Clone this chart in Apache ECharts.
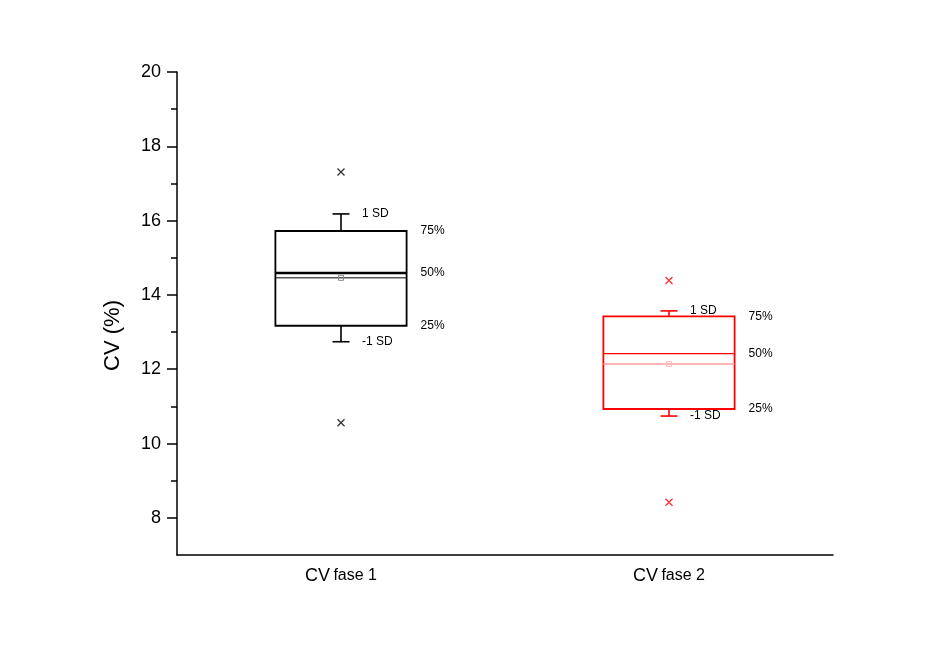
<!DOCTYPE html>
<html>
<head>
<meta charset="utf-8">
<title>CV fase 1 / CV fase 2</title>
<script src="https://cdn.jsdelivr.net/npm/echarts@6/dist/echarts.min.js"></script>
<style>
  html, body { margin: 0; padding: 0; background: #fff; }
  #chart { width: 948px; height: 662px; }
</style>
</head>
<body>
<div id="chart"></div>
<script>
// data
const categories = ["CV fase 1", "CV fase 2"];
const sdLow = [12.74, 10.74];   // mean - 1 SD
const q1 = [13.17, 10.93];      // 25%
const median = [14.59, 12.42];  // 50%
const q3 = [15.72, 13.42];      // 75%
const sdHigh = [16.18, 13.57];  // mean + 1 SD
const mean = [14.46, 12.14];
const outliers = [
  [17.31, 10.56],
  [14.39, 8.42],
];
const yMajorTicks = [8, 10, 12, 14, 16, 18, 20];
const yMinorTicks = [9, 11, 13, 15, 17, 19];

// styles
const boxColors = ["#000000", "#ff0000"];
const outlierColors = ["#333333", "#ff3030"];
const meanColors = ["#000000", "#ff9c9c"];
const medianWidths = [2.4, 1.2];
const labelFont = "Liberation Sans, Arial, sans-serif";

const boxData = categories.map((c, i) => [i, sdLow[i], q1[i], median[i], q3[i], sdHigh[i], mean[i]]);

const chart = echarts.init(document.getElementById("chart"));

const txt = (x, y, text) => ({
  type: "text",
  style: {
    x: x,
    y: y,
    text: text,
    fill: "#000",
    font: "12px " + labelFont,
    align: "left",
    verticalAlign: "middle",
  },
});

const renderBox = (params, api) => {
  const i = api.value(0);
  const band = api.size([1, 0])[0];
  const halfBox = band * 0.2;
  const halfCap = band * 0.026;
  const pLow = api.coord([i, api.value(1)]);
  const pQ1 = api.coord([i, api.value(2)]);
  const pMed = api.coord([i, api.value(3)]);
  const pQ3 = api.coord([i, api.value(4)]);
  const pHigh = api.coord([i, api.value(5)]);
  const pMean = api.coord([i, api.value(6)]);
  const cx = pQ1[0];
  const color = boxColors[i];
  const lw = 1.6;
  const line = (x1, y1, x2, y2, stroke, w) => ({
    type: "line",
    shape: { x1, y1, x2, y2 },
    style: { stroke: stroke, lineWidth: w },
  });
  return {
    type: "group",
    children: [
      line(cx, pQ3[1], cx, pHigh[1], color, lw),
      line(cx, pQ1[1], cx, pLow[1], color, lw),
      line(cx - halfCap, pHigh[1], cx + halfCap, pHigh[1], color, lw),
      line(cx - halfCap, pLow[1], cx + halfCap, pLow[1], color, lw),
      {
        type: "rect",
        shape: { x: cx - halfBox, y: pQ3[1], width: halfBox * 2, height: pQ1[1] - pQ3[1] },
        style: { fill: "none", stroke: color, lineWidth: lw + 0.2 },
      },
      line(cx - halfBox, pMean[1], cx + halfBox, pMean[1], meanColors[i], i === 0 ? 1 : 1.6),
      line(cx - halfBox, pMed[1], cx + halfBox, pMed[1], color, medianWidths[i]),
      {
        type: "rect",
        shape: { x: cx - 2.5, y: pMean[1] - 2.5, width: 5, height: 5 },
        style: { fill: "none", stroke: i === 0 ? "#888" : "#ffbcbc", lineWidth: 1 },
      },
      txt(cx + 21, pHigh[1], "1 SD"),
      txt(cx + 21, pLow[1], "-1 SD"),
      txt(cx + halfBox + 14, pQ3[1], "75%"),
      txt(cx + halfBox + 14, pMed[1], "50%"),
      txt(cx + halfBox + 14, pQ1[1], "25%"),
    ],
  };
};

const outlierSeries = outliers.map((list, i) => ({
  type: "scatter",
  data: list.map((v) => [i, v]),
  symbol: "path://M0,0L10,10M10,0L0,10",
  symbolSize: 7,
  itemStyle: {
    color: "none",
    borderColor: outlierColors[i],
    borderWidth: 1.3,
    opacity: 1,
  },
  z: 4,
}));

chart.setOption({
  animation: false,
  backgroundColor: "#ffffff",
  textStyle: { fontFamily: labelFont },
  grid: { left: 177, right: 115, top: 72, bottom: 107 },
  xAxis: {
    type: "category",
    data: categories,
    boundaryGap: true,
    axisLine: { lineStyle: { color: "#000", width: 1.5 } },
    axisTick: { alignWithLabel: true, length: 7, lineStyle: { color: "#000", width: 1.5 } },
    axisLabel: {
      margin: 12,
      color: "#000",
      formatter: (v) => {
        const parts = v.split(" ");
        return "{a|" + parts[0] + "} {b|" + parts.slice(1).join(" ") + "}";
      },
      rich: {
        a: { fontSize: 18, color: "#000", fontFamily: labelFont },
        b: { fontSize: 16, color: "#000", fontFamily: labelFont },
      },
    },
    splitLine: { show: false },
  },
  yAxis: [
    {
      type: "value",
      min: 7,
      max: 20,
      axisLine: { show: true, lineStyle: { color: "#000", width: 1.5 } },
      axisTick: { show: true, length: 10, customValues: yMajorTicks, lineStyle: { color: "#000", width: 1.5 } },
      axisLabel: { customValues: yMajorTicks, margin: 16, color: "#000", fontSize: 18, fontFamily: labelFont },
      splitLine: { show: false },
    },
    {
      type: "value",
      min: 7,
      max: 20,
      position: "left",
      axisLine: { show: false },
      axisTick: { show: true, length: 6, customValues: yMinorTicks, lineStyle: { color: "#000", width: 1.5 } },
      axisLabel: { show: false },
      splitLine: { show: false },
    },
  ],
  graphic: [
    {
      type: "text",
      left: 102,
      top: 300,
      rotation: Math.PI / 2,
      style: { text: "CV (%)", fill: "#000", font: "22px " + labelFont },
    },
  ],
  series: [
    {
      type: "custom",
      renderItem: renderBox,
      data: boxData,
      encode: { x: 0, y: [1, 2, 3, 4, 5, 6] },
      z: 3,
    },
  ].concat(outlierSeries),
});
</script>
</body>
</html>
